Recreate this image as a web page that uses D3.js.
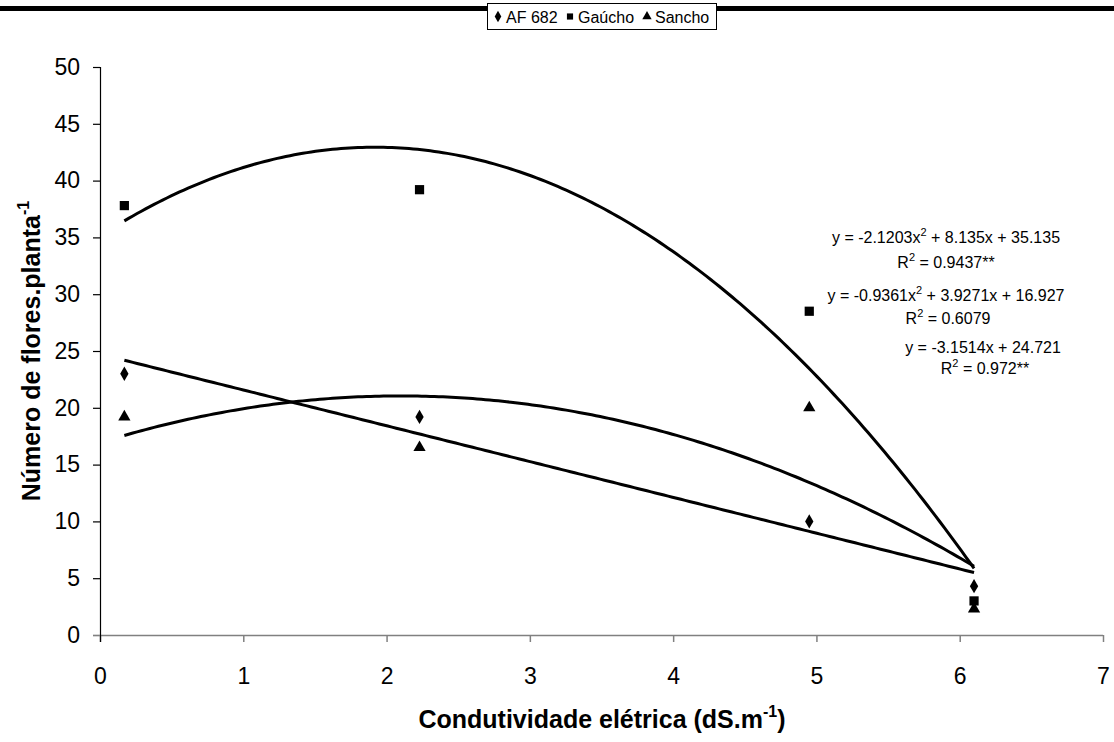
<!DOCTYPE html>
<html><head><meta charset="utf-8">
<script src="https://cdn.jsdelivr.net/npm/d3@7"></script>
<style>body{margin:0;background:#fff} svg{display:block} text{font-family:"Liberation Sans",Arial,sans-serif;fill:#000}</style>
</head><body><svg id="c" width="1114" height="742"></svg>
<script>
// ---- data ----
const xValues = [0.17, 2.23, 4.95, 6.1];
const af682  = [23.0, 19.2, 10.0, 4.3];
const gaucho = [37.8, 39.2, 28.5, 3.0];
const sancho = [19.2, 16.5, 20.0, 2.3];
const seriesNames = ["AF 682", "Gaúcho", "Sancho"];
// regression coefficients [a (x²), b (x), c]
const fitGaucho = [-2.1203, 8.135, 35.135];
const fitSancho = [-0.9361, 3.9271, 16.927];
const fitAF682  = [0, -3.1514, 24.721];
const xTicks = [0, 1, 2, 3, 4, 5, 6, 7];
const yTicks = [0, 5, 10, 15, 20, 25, 30, 35, 40, 45, 50];

const svg = d3.select("#c");
const W = 1114, H = 742;
const x = d3.scaleLinear().domain([0, 7]).range([100, 1103]);
const y = d3.scaleLinear().domain([0, 50]).range([635, 67]);

// top decorative thick line
svg.append("rect").attr("x", 0).attr("y", 6).attr("width", W).attr("height", 5).attr("fill", "#000");

// axes
const xAxis = d3.axisBottom(x).tickValues(xTicks).tickSize(7).tickFormat(d3.format("d"));
const gx = svg.append("g").attr("transform", "translate(0,635)").call(xAxis);
gx.select(".domain").attr("stroke", "#808080").attr("stroke-width", 1.5).attr("d", `M93,0.5H${x(7)}`);
gx.selectAll(".tick line").attr("stroke", "#808080").attr("stroke-width", 1.5);
gx.selectAll(".tick text").attr("font-size", 23).attr("y", 49).attr("dy", 0)
  .attr("font-family", "Liberation Sans, Arial, sans-serif");

const yAxis = d3.axisLeft(y).tickValues(yTicks).tickSize(7).tickPadding(13).tickFormat(d3.format("d"));
const gy = svg.append("g").attr("transform", "translate(100,0)").call(yAxis);
gy.select(".domain").attr("stroke", "#000").attr("stroke-width", 1.2).attr("d", `M0.5,${y(50)}V642`);
gy.selectAll(".tick line").attr("stroke", "#000").attr("stroke-width", 1.2);
gy.selectAll(".tick text").attr("font-size", 23).attr("font-family", "Liberation Sans, Arial, sans-serif");
gy.select(".tick:first-of-type line").attr("stroke", "#808080");

// trend lines (from the regression equations shown on the chart)
function curve(coef) {
  const xs = d3.range(0, 201).map(i => xValues[0] + (xValues[3] - xValues[0]) * i / 200);
  return xs.map(v => [v, coef[0] * v * v + coef[1] * v + coef[2]]);
}
const line = d3.line().x(d => x(d[0])).y(d => y(d[1]));
[fitGaucho, fitSancho, fitAF682].forEach(c => {
  svg.append("path").attr("d", line(curve(c))).attr("fill", "none")
    .attr("stroke", "#000").attr("stroke-width", 3).attr("stroke-linejoin", "round");
});

// markers
const series = [
  {vals: af682, type: d3.symbolDiamond, size: 60},
  {vals: gaucho, type: d3.symbolSquare, size: 85},
  {vals: sancho, type: d3.symbolTriangle, size: 65}
];
series.forEach(s => {
  svg.append("g").selectAll("path").data(s.vals).join("path")
    .attr("transform", (d, i) => `translate(${x(xValues[i])},${y(d)})`)
    .attr("d", d3.symbol().type(s.type).size(s.size)())
    .attr("fill", "#000");
});

// equations
function eq(cx, cy, parts) {
  const t = svg.append("text").attr("x", cx).attr("y", cy).attr("text-anchor", "middle").attr("font-size", 16);
  parts.forEach(p => {
    if (p.sup) t.append("tspan").attr("dy", -7).attr("font-size", 11).text(p.t);
    else if (p.after) t.append("tspan").attr("dy", 7).text(p.t);
    else t.append("tspan").text(p.t);
  });
}
eq(946, 243, [{t: "y = -2.1203x"}, {t: "2", sup: 1}, {t: " + 8.135x + 35.135", after: 1}]);
eq(946, 268, [{t: "R"}, {t: "2", sup: 1}, {t: " = 0.9437**", after: 1}]);
eq(946, 301, [{t: "y = -0.9361x"}, {t: "2", sup: 1}, {t: " + 3.9271x + 16.927", after: 1}]);
eq(948, 324, [{t: "R"}, {t: "2", sup: 1}, {t: " = 0.6079", after: 1}]);
eq(983, 353, [{t: "y = -3.1514x + 24.721"}]);
eq(985, 374, [{t: "R"}, {t: "2", sup: 1}, {t: " = 0.972**", after: 1}]);

// axis titles
const yt = svg.append("text").attr("transform", "translate(40,351) rotate(-90)")
  .attr("text-anchor", "middle").attr("font-size", 25).attr("font-weight", "bold");
yt.append("tspan").text("Número de flores.planta");
yt.append("tspan").attr("dy", -11).attr("font-size", 16).text("-1");

const xt = svg.append("text").attr("x", 602).attr("y", 728)
  .attr("text-anchor", "middle").attr("font-size", 25).attr("font-weight", "bold");
xt.append("tspan").text("Condutividade elétrica (dS.m");
xt.append("tspan").attr("dy", -11).attr("font-size", 16).text("-1");
xt.append("tspan").attr("dy", 11).text(")");

// legend
const lg = svg.append("g");
lg.append("rect").attr("x", 487.5).attr("y", 3.5).attr("width", 229).attr("height", 26)
  .attr("fill", "#fff").attr("stroke", "#000").attr("stroke-width", 1);
const legendTypes = [d3.symbolDiamond, d3.symbolSquare, d3.symbolTriangle];
const legendMarkX = [498, 570, 647];
seriesNames.forEach((n, i) => {
  lg.append("path").attr("transform", `translate(${legendMarkX[i]},16.5)`)
    .attr("d", d3.symbol().type(legendTypes[i]).size(38)()).attr("fill", "#000");
  lg.append("text").attr("x", legendMarkX[i] + 8).attr("y", 22.5).attr("font-size", 16).text(n);
});
</script></body></html>
